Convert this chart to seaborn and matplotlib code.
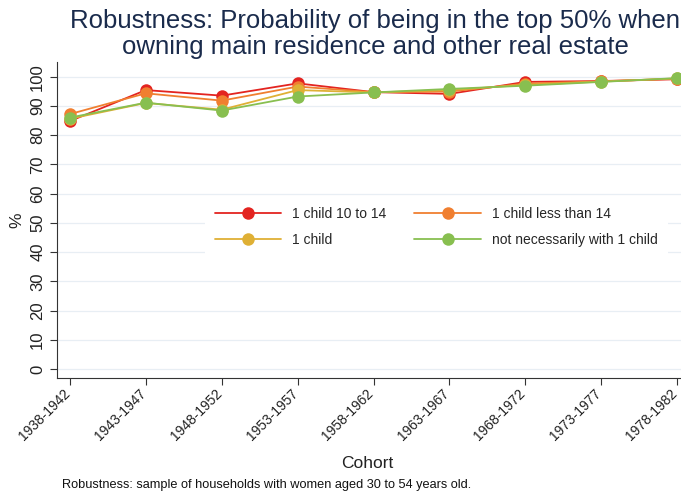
import matplotlib
matplotlib.use("Agg")
import matplotlib.pyplot as plt
import matplotlib.transforms as mtransforms
import seaborn as sns
import pandas as pd

cohorts = ["1938-1942", "1943-1947", "1948-1952", "1953-1957", "1958-1962",
           "1963-1967", "1968-1972", "1973-1977", "1978-1982"]
child_10_14 = [84.8, 95.4, 93.5, 97.7, 94.7, 94.1, 98.2, 98.5, 99.1]
child_lt_14 = [87.2, 94.3, 91.8, 96.6, 94.7, 94.9, 97.6, 98.4, 99.3]
one_child = [85.6, 91.0, 88.7, 95.4, 94.6, 95.4, 97.2, 98.3, 99.4]
not_necessarily = [86.0, 91.1, 88.4, 93.2, 94.6, 95.8, 96.9, 98.2, 99.5]

series_names = ["1 child 10 to 14", "1 child less than 14", "1 child",
                "not necessarily with 1 child"]
palette = ["#e32420", "#f07f30", "#dfb035", "#88bf50"]

rows = []
for name, vals in zip(series_names, [child_10_14, child_lt_14, one_child, not_necessarily]):
    for i, (c, v) in enumerate(zip(cohorts, vals)):
        rows.append({"pos": i, "Cohort": c, "value": v, "series": name})
df = pd.DataFrame(rows)

sns.set_style("white")
plt.rcParams["font.family"] = ["Liberation Sans", "DejaVu Sans"]

fig = plt.figure(figsize=(6.81, 4.93), dpi=100)
ax = fig.add_axes([57 / 681, 1 - 378 / 493, 624 / 681, (378 - 62) / 493])

sns.lineplot(data=df, x="pos", y="value", hue="series", hue_order=series_names,
             palette=palette, marker="o", markersize=9, markeredgewidth=0,
             linewidth=1.3, ax=ax, clip_on=False, zorder=3)

ax.set_xlim(-0.17, 8.05)
ax.set_ylim(-3, 105)
ax.set_xticks(range(len(cohorts)))
ax.set_xticklabels([])
# cohort labels drawn as text so they can sit a few pixels left of the tick
lbl_trans = ax.get_xaxis_transform() + mtransforms.ScaledTranslation(
    -7 / 100, -8 / 100, fig.dpi_scale_trans)
for i, c in enumerate(cohorts):
    ax.text(i, 0, c, transform=lbl_trans, rotation=45, ha="right", va="top",
            rotation_mode="anchor", fontsize=10, color="#222222")
ax.set_yticks(range(0, 101, 10))
ax.set_yticklabels([str(v) for v in range(0, 101, 10)], rotation=90, va="center",
                   fontsize=12, color="#222222")
ax.tick_params(axis="both", direction="out", length=5, width=0.8, color="#333333",
               bottom=True, left=True)
ax.yaxis.grid(True, color="#e8eef4", linewidth=0.9)
ax.set_axisbelow(True)
for s in ["top", "right"]:
    ax.spines[s].set_visible(False)
for s in ["left", "bottom"]:
    ax.spines[s].set_color("#333333")
    ax.spines[s].set_linewidth(0.8)

ax.set_xlabel("")
ax.set_ylabel("%", fontsize=12.5, color="#222222", labelpad=4)
fig.text(367 / 681, 1 - 463 / 493, "Cohort", ha="center", va="center",
         fontsize=12.5, color="#222222")

# row-wise legend order: matplotlib fills columns first
handles, labels = ax.get_legend_handles_labels()
order = [0, 2, 1, 3]
leg = ax.legend([handles[i] for i in order], [labels[i] for i in order],
                loc="upper left", bbox_to_anchor=(198 / 681, 1 - 190 / 493),
                bbox_transform=fig.transFigure, ncol=2, frameon=True,
                facecolor="white", edgecolor="white", framealpha=1,
                fontsize=10, handlelength=4.8, handletextpad=0.8,
                columnspacing=2.0, borderpad=0.7, labelspacing=0.9)
leg.get_frame().set_linewidth(0)
for line in leg.get_lines():
    line.set_markersize(9)

fig.text(375 / 681, 0.982, "Robustness: Probability of being in the top 50% when\n"
         "owning main residence and other real estate",
         ha="center", va="top", fontsize=18.5, color="#1a2b4c", linespacing=1.12)
fig.text(62 / 681, 0.004, "Robustness: sample of households with women aged 30 to 54 years old.",
         ha="left", va="bottom", fontsize=9.2, color="#111111")

fig.savefig("out.png", dpi=100)
